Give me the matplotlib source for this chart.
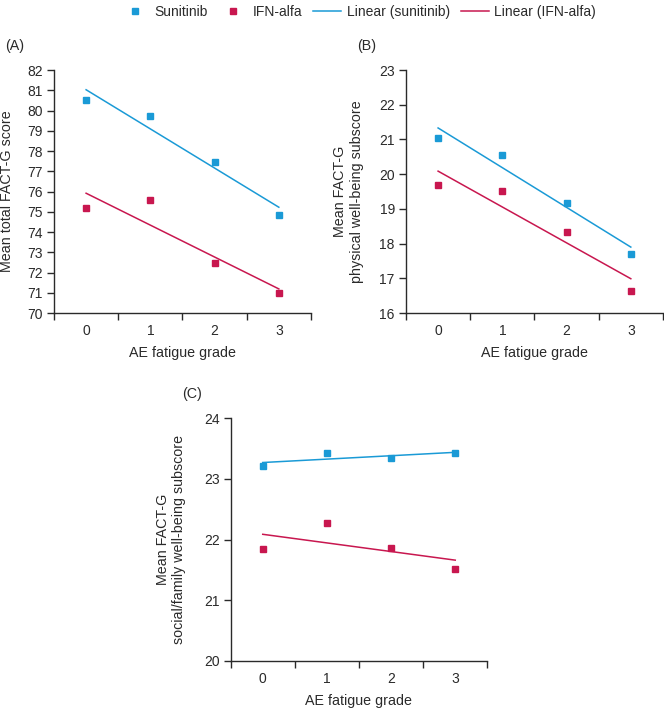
import numpy as np
import matplotlib
matplotlib.use("Agg")
import matplotlib.pyplot as plt
from matplotlib.lines import Line2D

plt.rcParams['font.family'] = ['Liberation Sans', 'DejaVu Sans']
plt.rcParams['font.size'] = 10

grades = [0, 1, 2, 3]

# panel A: total FACT-G
sun_total = [80.51, 79.72, 77.45, 74.82]
ifn_total = [75.18, 75.60, 72.45, 70.98]
# panel B: physical well-being
sun_phys = [21.05, 20.55, 19.16, 17.70]
ifn_phys = [19.68, 19.51, 18.33, 16.63]
# panel C: social/family well-being
sun_soc = [23.22, 23.42, 23.35, 23.43]
ifn_soc = [21.85, 22.27, 21.87, 21.51]

blue = '#1a9ad6'
red = '#c8174f'
ink = '#2a2a2a'


def draw_panel(ax, sun, ifn, ylim, yticks, ylabel, letter, label_x):
    x = np.array(grades)
    for vals, col in [(sun, blue), (ifn, red)]:
        ax.plot(x, vals, 's', color=col, markersize=4.8, linestyle='none')
        # least-squares trend line, drawn from grade 0 to grade 3
        slope, icpt = np.polyfit(x, vals, 1)
        ax.plot([x[0], x[-1]], [icpt + slope * x[0], icpt + slope * x[-1]],
                color=col, linewidth=1.1)

    ax.set_xlim(-0.5, 3.5)
    ax.set_ylim(*ylim)
    ax.set_yticks(yticks)
    ax.set_xticks([-0.5, 0.5, 1.5, 2.5, 3.5])
    ax.set_xticklabels([])
    ax.set_xticks(grades, minor=True)
    ax.set_xticklabels([str(g) for g in grades], minor=True)
    ax.tick_params(axis='x', which='minor', length=0, pad=8, labelsize=10, colors=ink)
    ax.tick_params(axis='x', which='major', length=5, width=1, color=ink)
    ax.tick_params(axis='y', length=5, width=1, pad=3, labelsize=10, colors=ink)

    for side in ['top', 'right']:
        ax.spines[side].set_visible(False)
    for side in ['left', 'bottom']:
        ax.spines[side].set_color(ink)
        ax.spines[side].set_linewidth(1)

    ax.set_xlabel('AE fatigue grade', fontsize=10.3, color=ink)
    ax.xaxis.set_label_coords(0.5, -0.135)
    ax.set_ylabel(ylabel, fontsize=10.3, color=ink, linespacing=1.2)
    ax.yaxis.set_label_coords(label_x, 0.5)
    ax.text(-0.19, 1.1, letter, transform=ax.transAxes, fontsize=10.3, color=ink,
            ha='left', va='center')


fig = plt.figure(figsize=(6.64, 7.08), dpi=100)

ax_a = fig.add_axes([0.0813, 0.5579, 0.387, 0.3432])
ax_b = fig.add_axes([0.6114, 0.5579, 0.387, 0.3432])
ax_c = fig.add_axes([0.3474, 0.0664, 0.3865, 0.3428])

draw_panel(ax_a, sun_total, ifn_total, (70, 82), range(70, 83),
           'Mean total FACT-G score', '(A)', -0.155)
draw_panel(ax_b, sun_phys, ifn_phys, (16, 23), range(16, 24),
           'Mean FACT-G\nphysical well-being subscore', '(B)', -0.165)
draw_panel(ax_c, sun_soc, ifn_soc, (20, 24), range(20, 25),
           'Mean FACT-G\nsocial/family well-being subscore', '(C)', -0.175)

handles = [
    Line2D([], [], marker='s', color=blue, linestyle='none', markersize=4.5),
    Line2D([], [], marker='s', color=red, linestyle='none', markersize=4.5),
    Line2D([], [], color=blue, linewidth=1.1),
    Line2D([], [], color=red, linewidth=1.1),
]
labels = ['Sunitinib', 'IFN-alfa', 'Linear (sunitinib)', 'Linear (IFN-alfa)']
fig.legend(handles, labels, loc='center', bbox_to_anchor=(0.540, 0.983), ncol=4,
           frameon=False, fontsize=10, handlelength=2.0, handletextpad=0.4,
           columnspacing=0.8, labelcolor=ink)

fig.savefig('out.png', dpi=100)
